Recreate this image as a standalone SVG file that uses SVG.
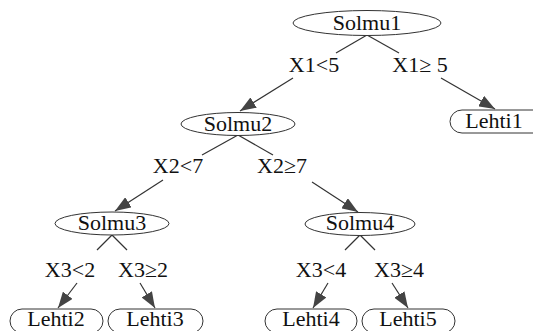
<svg xmlns="http://www.w3.org/2000/svg" width="533" height="331" viewBox="0 0 533 331">
<style>
.n{fill:#fff;stroke:#333;stroke-width:1}
.t{font-family:'Liberation Serif',serif;font-size:22px;fill:#111;text-anchor:middle}
.e{stroke:#333;stroke-width:1.2;fill:none}
</style>
<defs>
<marker id="ah" viewBox="0 0 16 12" refX="16" refY="6" markerWidth="16" markerHeight="12" markerUnits="userSpaceOnUse" orient="auto">
<path d="M0,0 L16,6 L0,12 z" fill="#444"/>
</marker>
</defs>
<rect width="533" height="331" fill="#fff"/>
<g id="connectors">
<line class="e" x1="367" y1="35" x2="336" y2="53"/>
<line class="e" x1="293" y1="78" x2="240" y2="111" marker-end="url(#ah)"/>
<line class="e" x1="367" y1="35" x2="399" y2="53"/>
<line class="e" x1="441" y1="78" x2="495" y2="109" marker-end="url(#ah)"/>
<line class="e" x1="238" y1="135" x2="202" y2="155"/>
<line class="e" x1="163" y1="180" x2="115" y2="211" marker-end="url(#ah)"/>
<line class="e" x1="238" y1="135" x2="273" y2="155"/>
<line class="e" x1="312" y1="182" x2="358" y2="212" marker-end="url(#ah)"/>
<line class="e" x1="112" y1="235" x2="97" y2="250"/>
<line class="e" x1="77" y1="283" x2="58" y2="308" marker-end="url(#ah)"/>
<line class="e" x1="112" y1="235" x2="127" y2="250"/>
<line class="e" x1="140" y1="283" x2="155" y2="308" marker-end="url(#ah)"/>
<line class="e" x1="360" y1="235" x2="345" y2="250"/>
<line class="e" x1="328" y1="283" x2="313" y2="308" marker-end="url(#ah)"/>
<line class="e" x1="360" y1="235" x2="375" y2="250"/>
<line class="e" x1="392" y1="283" x2="408" y2="308" marker-end="url(#ah)"/>
<text class="t" x="314" y="72">X1&lt;5</text>
<text class="t" x="420" y="72">X1≥ 5</text>
<text class="t" x="178" y="173">X2&lt;7</text>
<text class="t" x="282" y="173">X2≥7</text>
<text class="t" x="70" y="277">X3&lt;2</text>
<text class="t" x="143" y="277">X3≥2</text>
<text class="t" x="321" y="277">X3&lt;4</text>
<text class="t" x="399" y="277">X3≥4</text>
</g>
<g id="Solmu1"><ellipse class="n" cx="367" cy="23" rx="74" ry="12.5"/><text class="t" x="367" y="30">Solmu1</text></g>
<g id="Solmu2"><ellipse class="n" cx="238" cy="124" rx="57" ry="11.5"/><text class="t" x="238" y="131">Solmu2</text></g>
<g id="Solmu3"><ellipse class="n" cx="112" cy="223.5" rx="57" ry="11.5"/><text class="t" x="112" y="230">Solmu3</text></g>
<g id="Solmu4"><ellipse class="n" cx="360" cy="224" rx="55" ry="11.5"/><text class="t" x="360" y="230">Solmu4</text></g>
<g id="Lehti1"><rect class="n" x="450" y="110" width="100" height="23" rx="12" ry="11.5"/><text class="t" x="494" y="128">Lehti1</text></g>
<g id="Lehti2"><rect class="n" x="10" y="309" width="93" height="24" rx="12" ry="12"/><text class="t" x="56" y="326">Lehti2</text></g>
<g id="Lehti3"><rect class="n" x="108" y="309" width="95" height="24" rx="12" ry="12"/><text class="t" x="155" y="326">Lehti3</text></g>
<g id="Lehti4"><rect class="n" x="265" y="309" width="92" height="24" rx="12" ry="12"/><text class="t" x="311" y="326">Lehti4</text></g>
<g id="Lehti5"><rect class="n" x="362" y="309" width="93" height="24" rx="12" ry="12"/><text class="t" x="408" y="326">Lehti5</text></g>
</svg>
